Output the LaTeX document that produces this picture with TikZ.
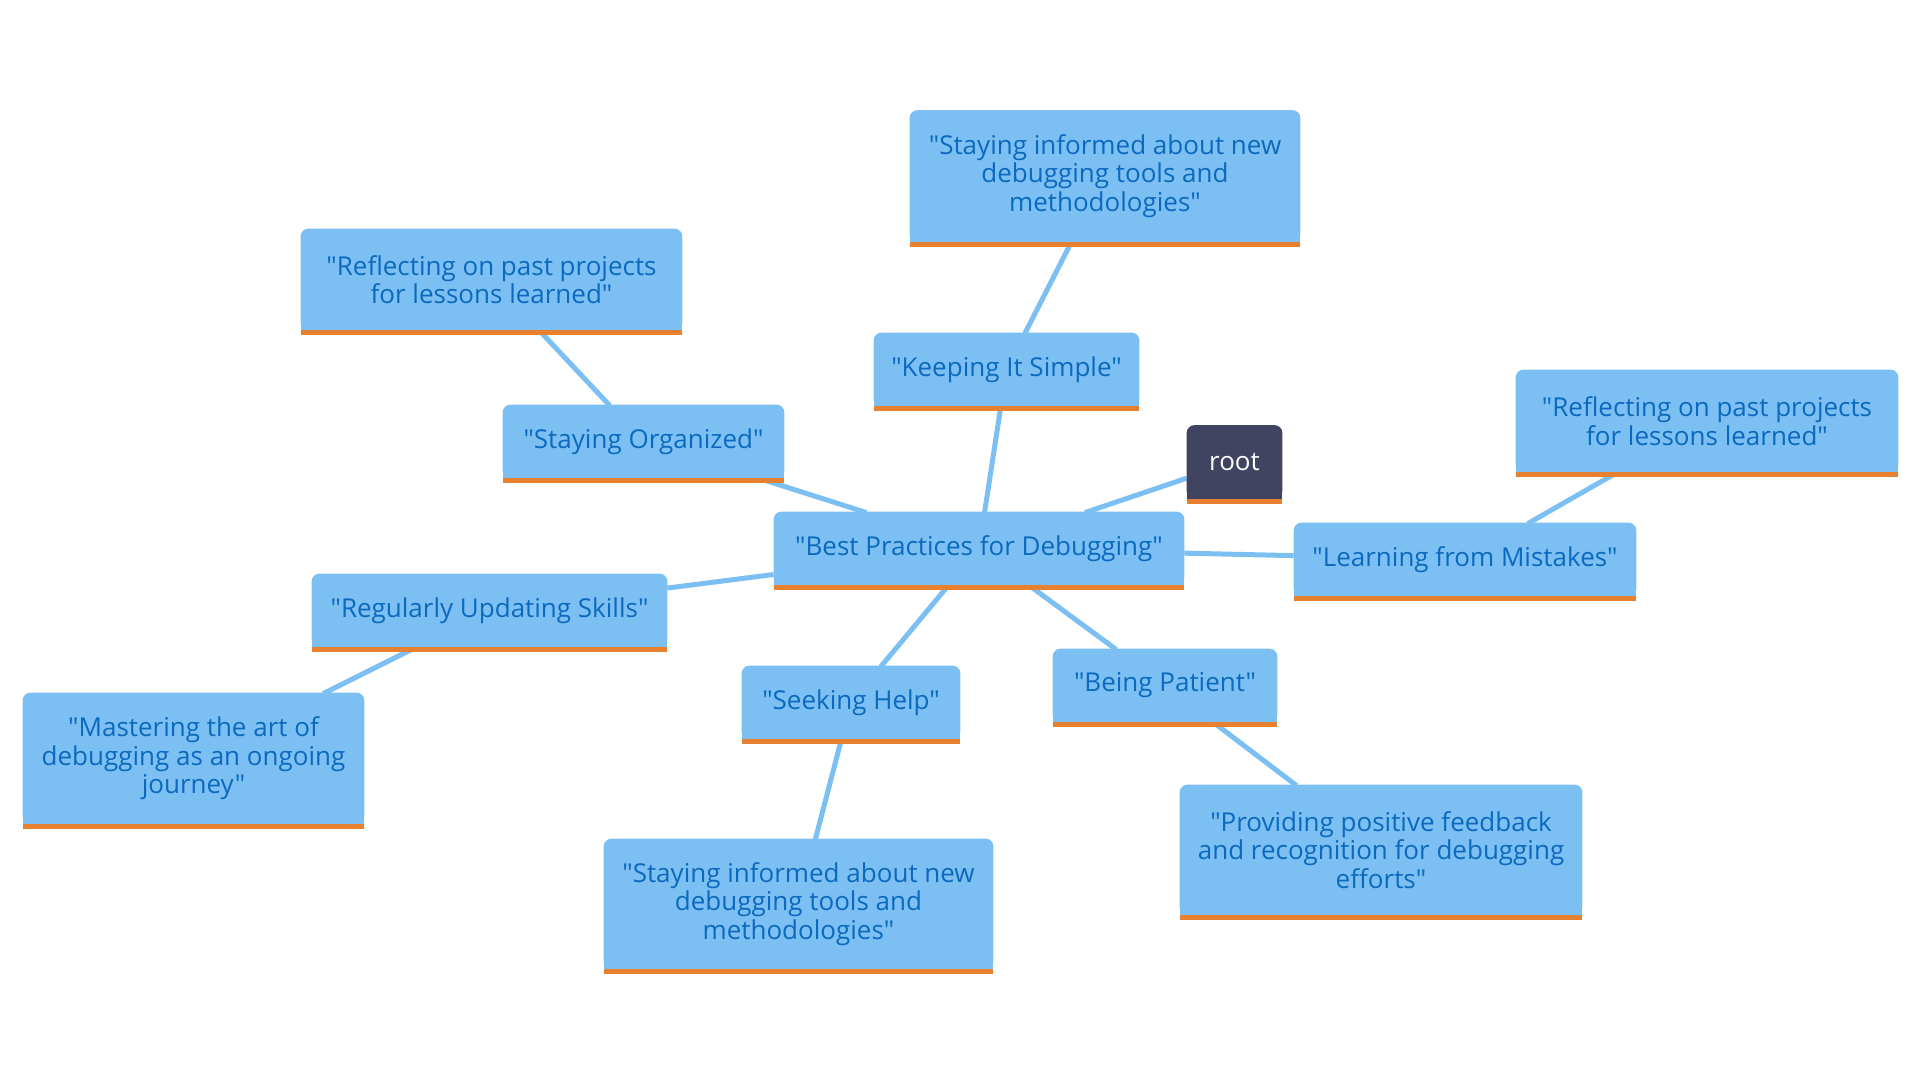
\documentclass[tikz,border=0pt]{standalone}
\usepackage{fontspec}
\setmainfont{Open Sans}[Ligatures=TeXOff]
\usetikzlibrary{backgrounds}
\definecolor{DBBlue}{HTML}{7CBFF2}
\definecolor{DBText}{HTML}{0B69BE}
\definecolor{DBOrange}{HTML}{E8812F}
\definecolor{DBRoot}{HTML}{404461}
\pgfdeclarelayer{boxes}
\pgfsetlayers{background,boxes,main}

\begin{document}
\begin{tikzpicture}[
  x=0.5pt,
  y=-0.5pt,
  box/.style={
    rectangle,
    text=DBText,
    align=center,
    inner sep=0pt,
    minimum height=35.5pt,
    font=\fontsize{13}{14.3}\selectfont
  },
  rootbox/.style={box, text=white},
  leaf/.style={box, minimum height=64.5pt},
  link/.style={line width=2.5pt, DBBlue},
]
\useasboundingbox (0,0) rectangle (1920,1080);

\node[box, minimum width=205pt] (best) at (979,548.5) {"Best Practices for Debugging"};
\node[rootbox, minimum width=47.5pt] (root) at (1234.5,462) {root};

\node[box, minimum width=132.5pt] (simple) at (1006.5,369.5) {"Keeping It Simple"};
\node[leaf, minimum width=195pt] (simple-a) at (1105,176) {"Staying informed about new\\debugging tools and\\methodologies"};

\node[box, minimum width=140.5pt] (organized) at (643.5,441.5) {"Staying Organized"};
\node[leaf, minimum width=190.5pt, minimum height=49.5pt] (organized-a) at (491.5,279.5) {"Reflecting on past projects\\for lessons learned"};

\node[box, minimum width=171pt] (mistakes) at (1465,559.5) {"Learning from Mistakes"};
\node[leaf, minimum width=191pt, minimum height=50pt] (mistakes-a) at (1707,421) {"Reflecting on past projects\\for lessons learned"};

\node[box, minimum width=177.5pt] (skills) at (489.5,610.5) {"Regularly Updating Skills"};
\node[leaf, minimum width=170.5pt] (skills-a) at (193.5,758.5) {"Mastering the art of\\debugging as an ongoing\\journey"};

\node[box, minimum width=109pt] (help) at (851,702.5) {"Seeking Help"};
\node[leaf, minimum width=194.5pt, minimum height=64pt] (help-a) at (798.5,904) {"Staying informed about new\\debugging tools and\\methodologies"};

\node[box, minimum width=112pt] (patient) at (1165,685.5) {"Being Patient"};
\node[leaf, minimum width=201pt, minimum height=64pt] (patient-a) at (1381,850) {"Providing positive feedback\\and recognition for debugging\\efforts"};

% box faces: rounded top, orange rule below
\begin{pgfonlayer}{boxes}
  \foreach \n/\c in {best/DBBlue, root/DBRoot, simple/DBBlue, simple-a/DBBlue,
      organized/DBBlue, organized-a/DBBlue, mistakes/DBBlue, mistakes-a/DBBlue,
      skills/DBBlue, skills-a/DBBlue, help/DBBlue, help-a/DBBlue,
      patient/DBBlue, patient-a/DBBlue} {
    \fill[\c, rounded corners=4pt] ([yshift=-0.5pt]\n.south west) rectangle ([yshift=0.5pt]\n.north east);
    \fill[\c] (\n.west) rectangle ([yshift=-0.5pt]\n.south east);
    \fill[DBOrange] ([yshift=-0.5pt]\n.south west) rectangle ([yshift=-3pt]\n.south east);
  }
\end{pgfonlayer}

\begin{scope}[on background layer]
  \draw[link] (best) -- (root);
  \draw[link] (best) -- (simple);
  \draw[link] (simple) -- (simple-a);
  \draw[link] (best) -- (organized);
  \draw[link] (organized) -- (organized-a);
  \draw[link] (best) -- (mistakes);
  \draw[link] (mistakes) -- (mistakes-a);
  \draw[link] (best) -- (skills);
  \draw[link] (skills) -- (skills-a);
  \draw[link] (best) -- (help);
  \draw[link] (help) -- (help-a);
  \draw[link] (best) -- (patient);
  \draw[link] (patient) -- (patient-a);
\end{scope}
\end{tikzpicture}
\end{document}
